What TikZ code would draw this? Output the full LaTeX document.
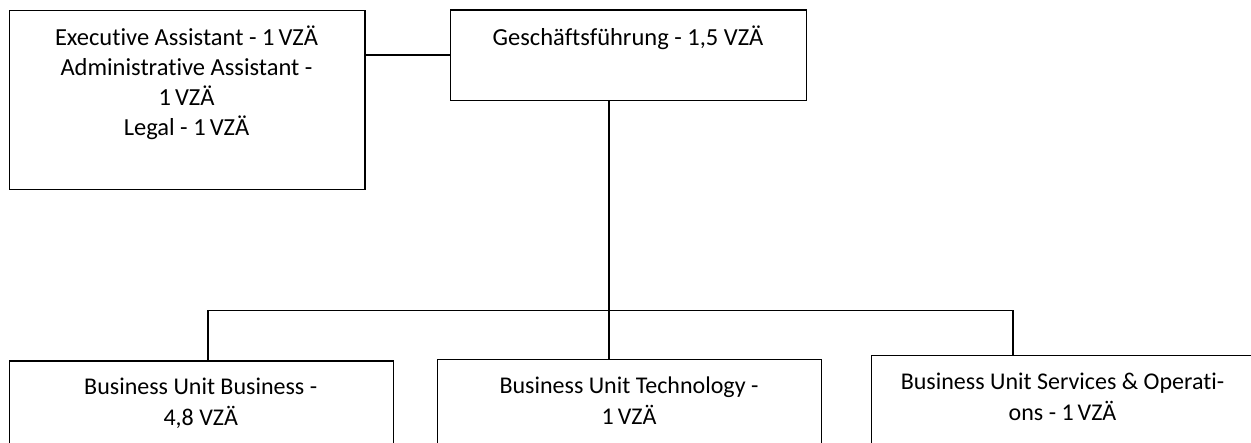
\documentclass[tikz,border=0pt]{standalone}
\usepackage{fontspec}
\setmainfont{Carlito}[Ligatures={NoCommon}]
\begin{document}
\begin{tikzpicture}[x=1pt,y=-1pt,
  box/.style={draw=black, line width=1.4pt, fill=white, rectangle, inner sep=0pt, anchor=north west},
  conn/.style={draw=black, line width=1.7pt},
  txt/.style={align=center, inner sep=0pt, anchor=base, text=black,
    font={\fontsize{24.5}{29.8}\selectfont}},
  txtb/.style={txt, font={\fontsize{24}{31}\selectfont}}]
\useasboundingbox (0,0) rectangle (1251,443);
\fill[white] (0,0) rectangle (1251,443);
\clip (0,0) rectangle (1251,443);
% boxes
\node[box, minimum width=355.6pt, minimum height=179pt] (b1) at (8.7,10) {};
\node[box, minimum width=356pt, minimum height=90.7pt] (b2) at (450,9.3) {};
\node[box, minimum width=384pt, minimum height=150pt] (b3) at (8.7,360.3) {};
\node[box, minimum width=384pt, minimum height=150pt] (b4) at (437,359) {};
\node[box, minimum width=384pt, minimum height=150pt] (b5) at (870.7,355) {};
% texts (anchor base = baseline of the last line)
\node[txt] (t1) at (186.5,135.1) {Executive Assistant - 1\,VZÄ\\Administrative Assistant -\\1\,VZÄ\\Legal - 1\,VZÄ};
\node[txt] (t2) at (628,46) {Geschäftsführung - 1,5 VZÄ};
\node[txtb] (t3) at (200.7,425.7) {Business Unit Business -\\4,8 VZÄ};
\node[txtb] (t4) at (629,424.5) {Business Unit Technology -\\1\,VZÄ};
\node[txtb] (t5) at (1062.5,421) {Business Unit Services \& Operati-\\ons - 1\,VZÄ};
% connectors
\coordinate (bus) at (609,310.5);
\draw[conn] (b2.west) -- (b2.west -| b1.east);
\draw[conn] (b2.south -| bus) -- (b4.north -| bus);
\draw[conn] (bus -| 208,0) -- (bus -| 1013,0);
\draw[conn] (bus -| 208,0) -- (b3.north -| 208,0);
\draw[conn] (bus -| 1013,0) -- (b5.north -| 1013,0);
\end{tikzpicture}
\end{document}
